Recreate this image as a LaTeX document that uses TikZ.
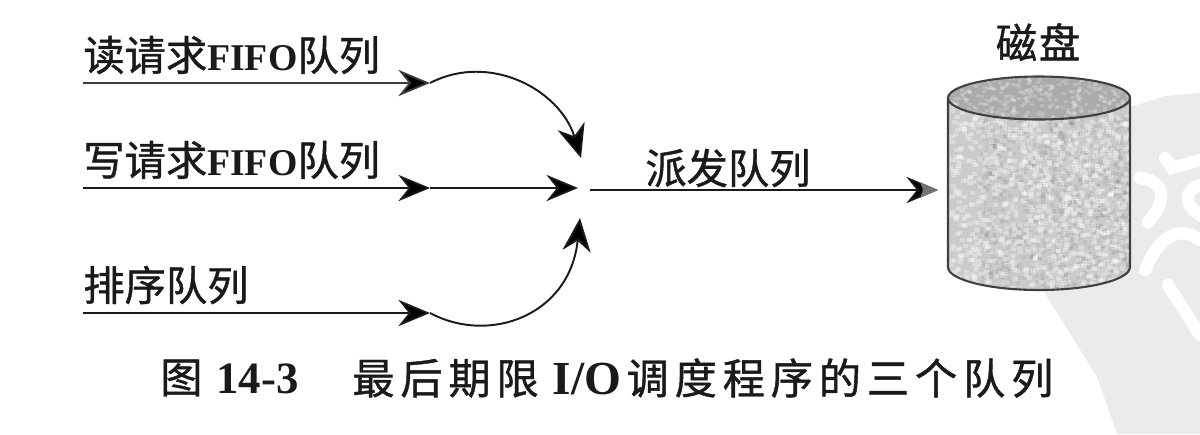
\documentclass[tikz,border=0pt]{standalone}
\usepackage{fontspec}
\usetikzlibrary{arrows.meta}
\newfontfamily\cjk[FakeBold=1]{Noto Sans CJK SC}
\newfontfamily\cjkcap[FakeBold=1,LetterSpace=14]{Noto Sans CJK SC}
\newfontfamily\lat{Liberation Serif}
\definecolor{ink}{HTML}{1A1A1A}
\definecolor{wm}{HTML}{EBEBEB}
\definecolor{diskbody}{HTML}{CBCBCB}
\definecolor{lid}{HTML}{ABABAB}
\newcommand{\labfifo}{{\fontsize{21.5}{21}\selectfont\lat\bfseries FIFO}}
\tikzset{
  x=0.02cm,y=-0.02cm,
  lbl/.style={inner sep=0pt,anchor=west,text=ink,font=\fontsize{23.5}{24}\selectfont\cjk},
  captxt/.style={inner sep=0pt,anchor=west,text=ink,font=\fontsize{24}{24}\selectfont\cjkcap},
  flowline/.style={draw=ink,line width=1.0pt,-{Stealth[length=18pt,width=15pt,inset=6pt,fill=black]}},
  bendline/.style={draw=ink,line width=1.1pt,-{Stealth[length=19pt,width=16pt,inset=6pt,fill=black]}},
  cyl/.style={draw=black!75,line width=1.2pt},
  wmline/.style={draw=white,line width=7pt,line cap=round}
}
\begin{document}
\begin{tikzpicture}
\useasboundingbox (0,0) rectangle (1200,434);
% watermark
\fill[wm] (1200,93) -- (1165,96) -- (1130,107) -- (1040,280) -- (1047,297) -- (1097,377) -- (1117,434) -- (1200,434) -- cycle;
\draw[wmline] (1165,158) -- (1172,168) -- (1200,160);
\draw[wmline] (1140,178) .. controls (1160,180) and (1172,195) .. (1148,222);
\draw[wmline] (1200,185) .. controls (1182,192) and (1185,205) .. (1200,215);
\draw[wmline] (1145,270) .. controls (1160,235) and (1180,225) .. (1200,240);
\draw[wmline] (1168,285) -- (1200,335);

% coordinates
\coordinate (r0) at (83,83);
\coordinate (r1) at (430,83);
\coordinate (w0) at (83,188);
\coordinate (w1) at (430,188);
\coordinate (w2) at (578,188);
\coordinate (s0) at (83,313);
\coordinate (s1) at (430,313);
\coordinate (mr) at (581,158);
\coordinate (ms) at (580,218);
\coordinate (d0) at (590,190);
\coordinate (d1) at (938,190);

% connectors
\draw[flowline,draw=ink!85] (r0) -- (r1);
\draw[bendline] (r1) .. controls (490,52) and (560,90) .. (mr);
\draw[flowline] (w0) -- (w1);
\draw[flowline] (w1) -- (w2);
\draw[flowline] (s0) -- (s1);
\draw[bendline] (s1) .. controls (490,345) and (570,315) .. (ms);
\draw[flowline] (d0) -- (d1);
\fill[black!55] (920,182) -- (938,190) -- (920,198) -- (923,190) -- cycle;

% labels
\node[lbl] (a) at (83,55) {读请求\labfifo 队列};
\node[lbl] (b) at (83,160) {写请求\labfifo 队列};
\node[lbl] (c) at (83,285) {排序队列};
\node[lbl] (d) at (645,168) {派发队列};
\node[lbl,anchor=center] (e) at (1038,42) {磁\hspace{1pt}盘};
\node[captxt] (f) at (160,378) {图\hspace{8pt}{\fontsize{25.5}{27}\selectfont\lat\bfseries 14-3}};
\node[captxt] (g) at (352,378) {最后期限\hspace{8pt}{\fontsize{27}{27}\selectfont\lat\bfseries I/O}\hspace{3pt}调度程序的三个队列};

% disk
\path[fill=diskbody] (948,98) -- (948,267) arc[start angle=180,end angle=0,x radius=91,y radius=23] -- (1130,98) -- cycle;
\begin{scope}
\clip (948,98) -- (948,267) arc[start angle=180,end angle=0,x radius=91,y radius=23] -- (1130,98) -- cycle;
\pgfmathsetseed{14}
\foreach \i in {1,...,1200}{
  \pgfmathsetmacro{\px}{948+182*rnd}
  \pgfmathsetmacro{\py}{95+200*rnd}
  \fill[white,opacity=0.3] (\px,\py) rectangle ++(5,4);
  \fill[black,opacity=0.05] (\px+31,\py+17) rectangle ++(4,4);
}
\end{scope}
\path[fill=lid] (1039,98) ellipse[x radius=91,y radius=21.5];
\begin{scope}
\clip (1039,98) ellipse[x radius=91,y radius=21.5];
\foreach \i in {1,...,350}{
  \pgfmathsetmacro{\px}{948+182*rnd}
  \pgfmathsetmacro{\py}{77+44*rnd}
  \fill[white,opacity=0.2] (\px,\py) rectangle ++(4,3);
}
\end{scope}
\draw[cyl] (948,98) -- (948,267) arc[start angle=180,end angle=0,x radius=91,y radius=23] -- (1130,98);
\draw[cyl] (1039,98) ellipse[x radius=91,y radius=21.5];
\end{tikzpicture}
\end{document}
